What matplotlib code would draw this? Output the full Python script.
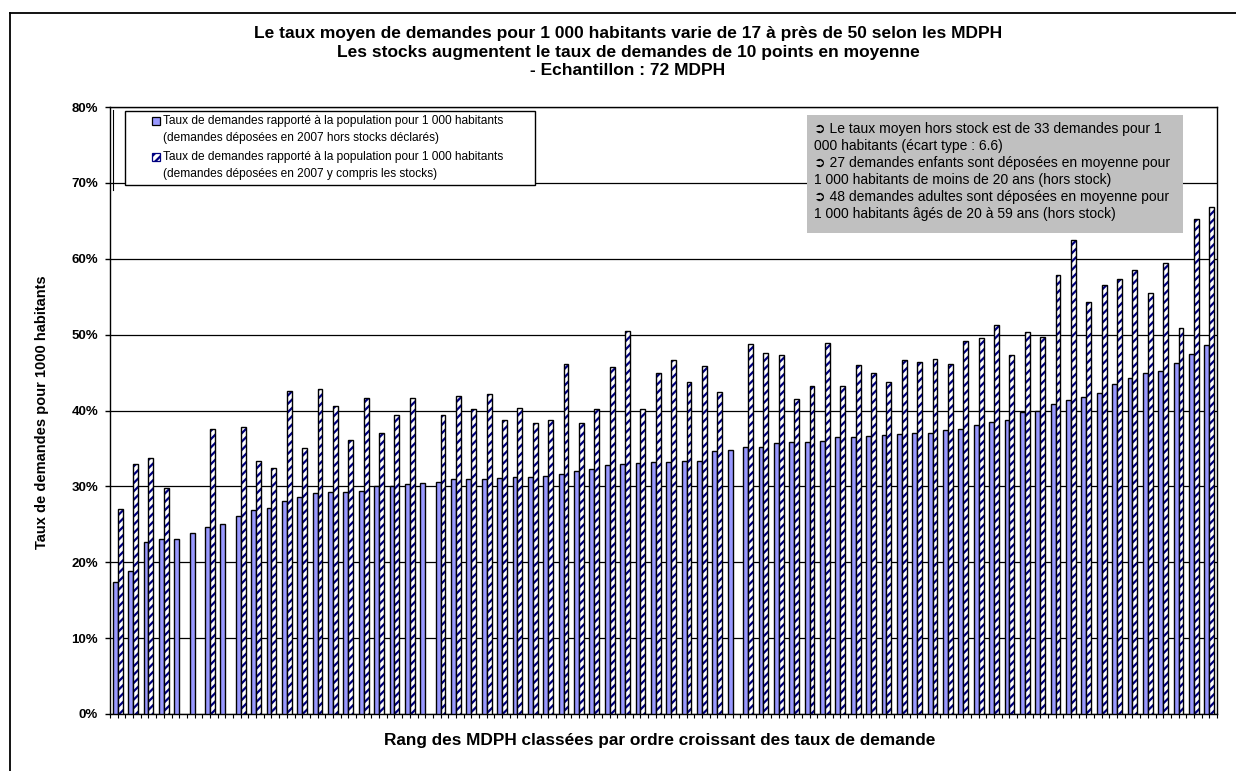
import numpy as np
import matplotlib

matplotlib.use("Agg")
import matplotlib.pyplot as plt
from matplotlib.lines import Line2D
from matplotlib.patches import Rectangle

# taux hors stock (barres pleines), par MDPH classées
rate_without_stock = [
    17.4, 18.8, 22.7, 23.0, 23.1, 23.9, 24.6, 25.1, 26.1, 26.9,
    27.2, 28.1, 28.6, 29.1, 29.2, 29.3, 29.4, 30.0, 30.1, 30.3,
    30.4, 30.6, 31.0, 31.0, 31.0, 31.1, 31.2, 31.2, 31.4, 31.6,
    32.0, 32.3, 32.8, 33.0, 33.1, 33.2, 33.2, 33.3, 33.3, 34.7,
    34.8, 35.2, 35.2, 35.7, 35.8, 35.9, 36.0, 36.5, 36.5, 36.7,
    36.8, 36.9, 37.0, 37.1, 37.4, 37.5, 38.1, 38.5, 38.7, 39.8,
    40.0, 40.9, 41.4, 41.8, 42.3, 43.5, 44.3, 45.0, 45.2, 46.3,
    47.4, 48.6,
]
# taux y compris les stocks (barres hachurées), nan = non renseigné
rate_with_stock = [
    27.0, 33.0, 33.7, 29.8, np.nan, np.nan, 37.6, np.nan, 37.8, 33.4,
    32.4, 42.6, 35.1, 42.8, 40.6, 36.1, 41.7, 37.1, 39.4, 41.6,
    np.nan, 39.4, 41.9, 40.2, 42.2, 38.8, 40.3, 38.4, 38.7, 46.1,
    38.3, 40.2, 45.7, 50.5, 40.2, 44.9, 46.6, 43.7, 45.8, 42.5,
    np.nan, 48.7, 47.6, 47.3, 41.5, 43.2, 48.9, 43.2, 46.0, 45.0,
    43.8, 46.7, 46.4, 46.8, 46.1, 49.2, 49.5, 51.3, 47.3, 50.4,
    49.7, 57.8, 62.5, 54.3, 56.6, 57.3, 58.5, 55.5, 59.5, 50.9,
    65.2, 66.8,
]
y_ticks = [0, 10, 20, 30, 40, 50, 60, 70, 80]

label_without = ("Taux de demandes rapporté à la population pour 1 000 habitants\n"
                 "(demandes déposées en 2007 hors stocks déclarés)")
label_with = ("Taux de demandes rapporté à la population pour 1 000 habitants\n"
              "(demandes déposées en 2007 y compris les stocks)")
title = ("Le taux moyen de demandes pour 1 000 habitants varie de 17 à près de 50 selon les MDPH\n"
         "Les stocks augmentent le taux de demandes de 10 points en moyenne\n"
         "- Echantillon : 72 MDPH")
note = ("➲ Le taux moyen hors stock est de 33 demandes pour 1\n"
        "000 habitants (écart type : 6.6)\n"
        "➲ 27 demandes enfants sont déposées en moyenne pour\n"
        "1 000 habitants de moins de 20 ans (hors stock)\n"
        "➲ 48 demandes adultes sont déposées en moyenne pour\n"
        "1 000 habitants âgés de 20 à 59 ans (hors stock)")

W, H = 1236, 771
SOLID = "#9999ff"
NAVY = "#000080"


def fx(px):
    return px / W


def fy(py):
    return 1 - py / H


def main() -> None:
    plt.rcParams["font.family"] = ["Liberation Sans", "DejaVu Sans"]
    plt.rcParams["hatch.linewidth"] = 1.6

    fig = plt.figure(figsize=(W / 100, H / 100), dpi=100)
    ax = fig.add_axes([fx(110), fy(714), fx(1217) - fx(110), fy(107) - fy(714)])

    n = len(rate_without_stock)
    x = np.arange(n)
    w = 0.32
    ax.bar(x - w / 2, rate_without_stock, width=w, color=SOLID,
           edgecolor="black", linewidth=1.0, zorder=3)
    ax.bar(x + w / 2, rate_with_stock, width=w, color="white",
           edgecolor=NAVY, linewidth=0, hatch="////", zorder=3)
    ax.bar(x + w / 2, rate_with_stock, width=w, fill=False,
           edgecolor="black", linewidth=1.0, zorder=4)

    ax.set_xlim(-0.5, n - 0.5)
    ax.set_ylim(0, 80)
    ax.set_yticks(y_ticks, [f"{t}%" for t in y_ticks], fontweight="bold", fontsize=9.5)
    ax.set_xticks(np.arange(-0.5, n, 0.5), [])
    ax.tick_params(axis="y", direction="out", length=3.6, width=1, pad=5)
    ax.tick_params(axis="x", direction="out", length=3, width=0.8)
    ax.grid(axis="y", color="black", linewidth=0.9)
    ax.set_axisbelow(True)
    for s in ax.spines.values():
        s.set_linewidth(1.0)
        s.set_color("black")

    fig.text(fx(42), fy(412), "Taux de demandes pour 1000 habitants", rotation=90,
             ha="center", va="center", fontweight="bold", fontsize=10.5)
    fig.text(fx(660), fy(740), "Rang des MDPH classées par ordre croissant des taux de demande",
             ha="center", va="center", fontweight="bold", fontsize=12.4)

    fig.text(fx(628), fy(26), title, ha="center", va="top", fontweight="bold",
             fontsize=12.5, linespacing=1.3)

    # cadre extérieur (bords gauche et haut visibles)
    fig.add_artist(Line2D([fx(10), fx(10)], [fy(13), 0], color="black", linewidth=1.3,
                          transform=fig.transFigure))
    fig.add_artist(Line2D([fx(10), 1], [fy(13), fy(13)], color="black", linewidth=1.3,
                          transform=fig.transFigure))
    fig.add_artist(Line2D([fx(112.5), fx(112.5)], [fy(110), fy(190)], color="black",
                          linewidth=0.8, transform=fig.transFigure))

    # légende dessinée à la main (marqueur aligné sur la 1re ligne)
    fig.add_artist(Rectangle((fx(125), fy(185)), fx(535) - fx(125), fy(111) - fy(185),
                             transform=fig.transFigure, facecolor="white",
                             edgecolor="black", linewidth=1.0, zorder=5))
    for top, label, face, hatch in [(115, label_without, SOLID, None),
                                    (151, label_with, "white", "////")]:
        fig.add_artist(Rectangle((fx(152), fy(top + 10)), fx(160) - fx(152), fy(top) - fy(top + 8),
                                 transform=fig.transFigure, facecolor=face,
                                 edgecolor=NAVY if hatch else "black", hatch=hatch,
                                 linewidth=0.9, zorder=6))
        fig.text(fx(163), fy(top), label, ha="left", va="top", fontsize=8.6,
                 linespacing=1.5, zorder=6)

    # encadré gris
    fig.add_artist(Rectangle((fx(807), fy(233)), fx(1183) - fx(807), fy(115) - fy(233),
                             transform=fig.transFigure, facecolor="#c0c0c0",
                             edgecolor="none", zorder=5))
    fig.text(fx(814), fy(122), note, ha="left", va="top", fontsize=10,
             linespacing=1.27, zorder=6)

    fig.savefig("out.png", dpi=100)


if __name__ == "__main__":
    main()
